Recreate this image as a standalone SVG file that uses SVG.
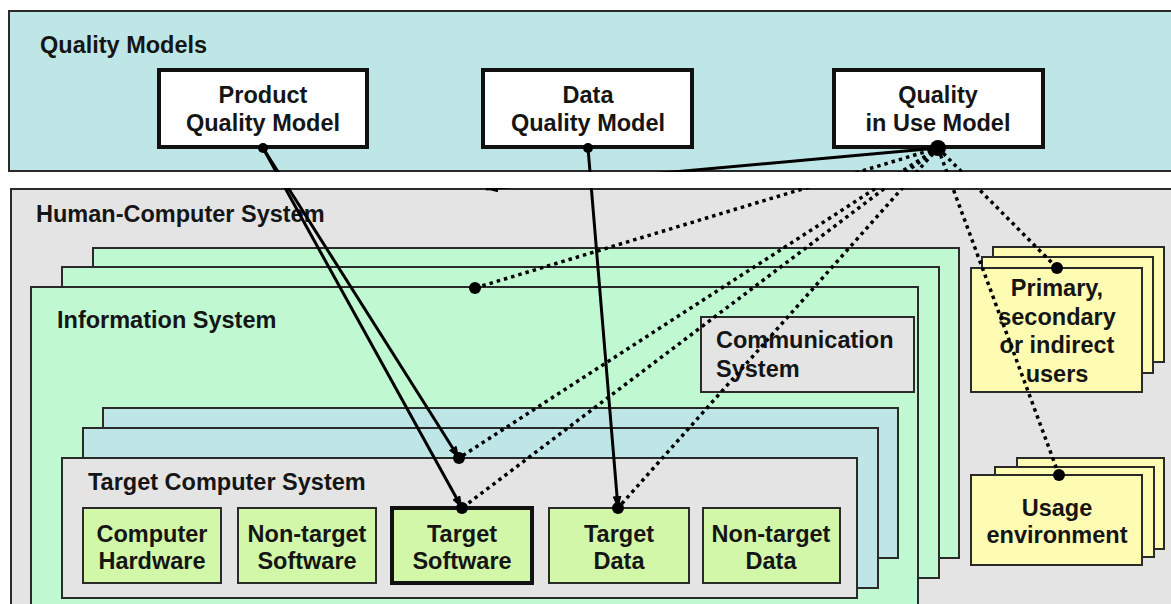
<svg xmlns="http://www.w3.org/2000/svg" width="1171" height="604" viewBox="0 0 1171 604">
<style>
.t{font-family:"Liberation Sans",Arial,sans-serif;font-weight:bold;font-size:23.5px;fill:#151515}
.c{text-anchor:middle}
.b{stroke:#2a2a2a;stroke-width:2}
.sky{fill:#bee6e7}
.gry{fill:#e4e4e4}
.grn{fill:#c0f8d2}
.lim{fill:#d2f7a9}
.yel{fill:#fefbb2}
.wht{fill:#ffffff}
.sol{stroke:#000;stroke-width:3;fill:none}
.dot{stroke:#000;stroke-width:3.5;fill:none;stroke-dasharray:3.5 4}
</style>
<defs>
<marker id="ah" markerUnits="userSpaceOnUse" markerWidth="13" markerHeight="9" refX="12" refY="4.5" orient="auto">
<path d="M0,0 L13,4.5 L0,9 z" fill="#000"/>
</marker>
</defs>
<rect width="1171" height="604" fill="#ffffff"/>
<g id="quality-models">
<rect class="sky b" x="9" y="11" width="1172" height="160"/>
<text class="t" x="40" y="53">Quality Models</text>
</g>
<g id="human-computer-system">
<rect class="gry b" x="11" y="189" width="1172" height="430"/>
<text class="t" x="36" y="222">Human-Computer System</text>
</g>
<g id="product-quality-model">
<rect class="wht" x="159" y="70" width="208" height="77" stroke="#111" stroke-width="4"/>
<text class="t c" x="263" y="103">Product</text>
<text class="t c" x="263" y="131">Quality Model</text>
</g>
<g id="data-quality-model">
<rect class="wht" x="483" y="70" width="209" height="77" stroke="#111" stroke-width="4"/>
<text class="t c" x="588" y="103">Data</text>
<text class="t c" x="588" y="131">Quality Model</text>
</g>
<g id="quality-in-use-model">
<rect class="wht" x="834" y="70" width="209" height="77" stroke="#111" stroke-width="4"/>
<text class="t c" x="938" y="103">Quality</text>
<text class="t c" x="938" y="131">in Use Model</text>
</g>
<g id="information-system">
<rect class="grn b" x="93" y="248" width="866" height="310"/>
<rect class="grn b" x="62" y="267" width="877" height="311"/>
<rect class="grn b" x="31" y="287" width="887" height="340"/>
<text class="t" x="57" y="328">Information System</text>
</g>
<g id="communication-system">
<rect class="gry b" x="701" y="317" width="213" height="75"/>
<text class="t" x="716" y="348">Communication</text>
<text class="t" x="716" y="377">System</text>
</g>
<g id="target-computer-system">
<rect class="sky b" x="103" y="408" width="795" height="150"/>
<rect class="sky b" x="83" y="428" width="795" height="160"/>
<rect class="gry b" x="62" y="458" width="795" height="140"/>
<text class="t" x="88" y="490">Target Computer System</text>
</g>
<g id="computer-hardware">
<rect class="lim b" x="83" y="508" width="138" height="75"/>
<text class="t c" x="152" y="542">Computer</text>
<text class="t c" x="152" y="569">Hardware</text>
</g>
<g id="non-target-software">
<rect class="lim b" x="238" y="508" width="138" height="75"/>
<text class="t c" x="307" y="542">Non-target</text>
<text class="t c" x="307" y="569">Software</text>
</g>
<g id="target-software">
<rect class="lim" x="392" y="508" width="140" height="75" stroke="#111" stroke-width="4"/>
<text class="t c" x="462" y="542">Target</text>
<text class="t c" x="462" y="569">Software</text>
</g>
<g id="target-data">
<rect class="lim b" x="549" y="508" width="140" height="75"/>
<text class="t c" x="619" y="542">Target</text>
<text class="t c" x="619" y="569">Data</text>
</g>
<g id="non-target-data">
<rect class="lim b" x="703" y="508" width="137" height="75"/>
<text class="t c" x="771" y="542">Non-target</text>
<text class="t c" x="771" y="569">Data</text>
</g>
<g id="users">
<rect class="yel b" x="993" y="247" width="171" height="115"/>
<rect class="yel b" x="982" y="257" width="171" height="116"/>
<rect class="yel b" x="971" y="268" width="171" height="124"/>
<text class="t c" x="1057" y="296">Primary,</text>
<text class="t c" x="1057" y="325">secondary</text>
<text class="t c" x="1057" y="353">or indirect</text>
<text class="t c" x="1057" y="382">users</text>
</g>
<g id="usage-environment">
<rect class="yel b" x="1017" y="458" width="147" height="91"/>
<rect class="yel b" x="995" y="467" width="159" height="90"/>
<rect class="yel b" x="971" y="475" width="171" height="90"/>
<text class="t c" x="1057" y="516">Usage</text>
<text class="t c" x="1057" y="543">environment</text>
</g>
<g id="connectors">
<line class="sol" x1="263" y1="148" x2="459" y2="458" marker-end="url(#ah)"/>
<line class="sol" x1="263" y1="148" x2="462" y2="508" marker-end="url(#ah)"/>
<line class="sol" x1="588" y1="148" x2="618" y2="508" marker-end="url(#ah)"/>
<line class="sol" x1="938" y1="148" x2="486" y2="189" marker-end="url(#ah)"/>
<line class="dot" x1="938" y1="148" x2="475" y2="288"/>
<line class="dot" x1="938" y1="148" x2="459" y2="458"/>
<line class="dot" x1="938" y1="148" x2="462" y2="508"/>
<line class="dot" x1="938" y1="148" x2="618" y2="508"/>
<line class="dot" x1="938" y1="148" x2="1057" y2="268"/>
<line class="dot" x1="938" y1="148" x2="1059" y2="475"/>
<circle cx="263" cy="148" r="5"/>
<circle cx="588" cy="148" r="5"/>
<circle cx="938" cy="148" r="8"/>
<circle cx="475" cy="288" r="6"/>
<circle cx="459" cy="458" r="6"/>
<circle cx="462" cy="508" r="6"/>
<circle cx="618" cy="508" r="6"/>
<circle cx="1057" cy="268" r="6"/>
<circle cx="1059" cy="475" r="6"/>
</g>
<rect x="0" y="172" width="1171" height="16" fill="#ffffff"/>
</svg>
